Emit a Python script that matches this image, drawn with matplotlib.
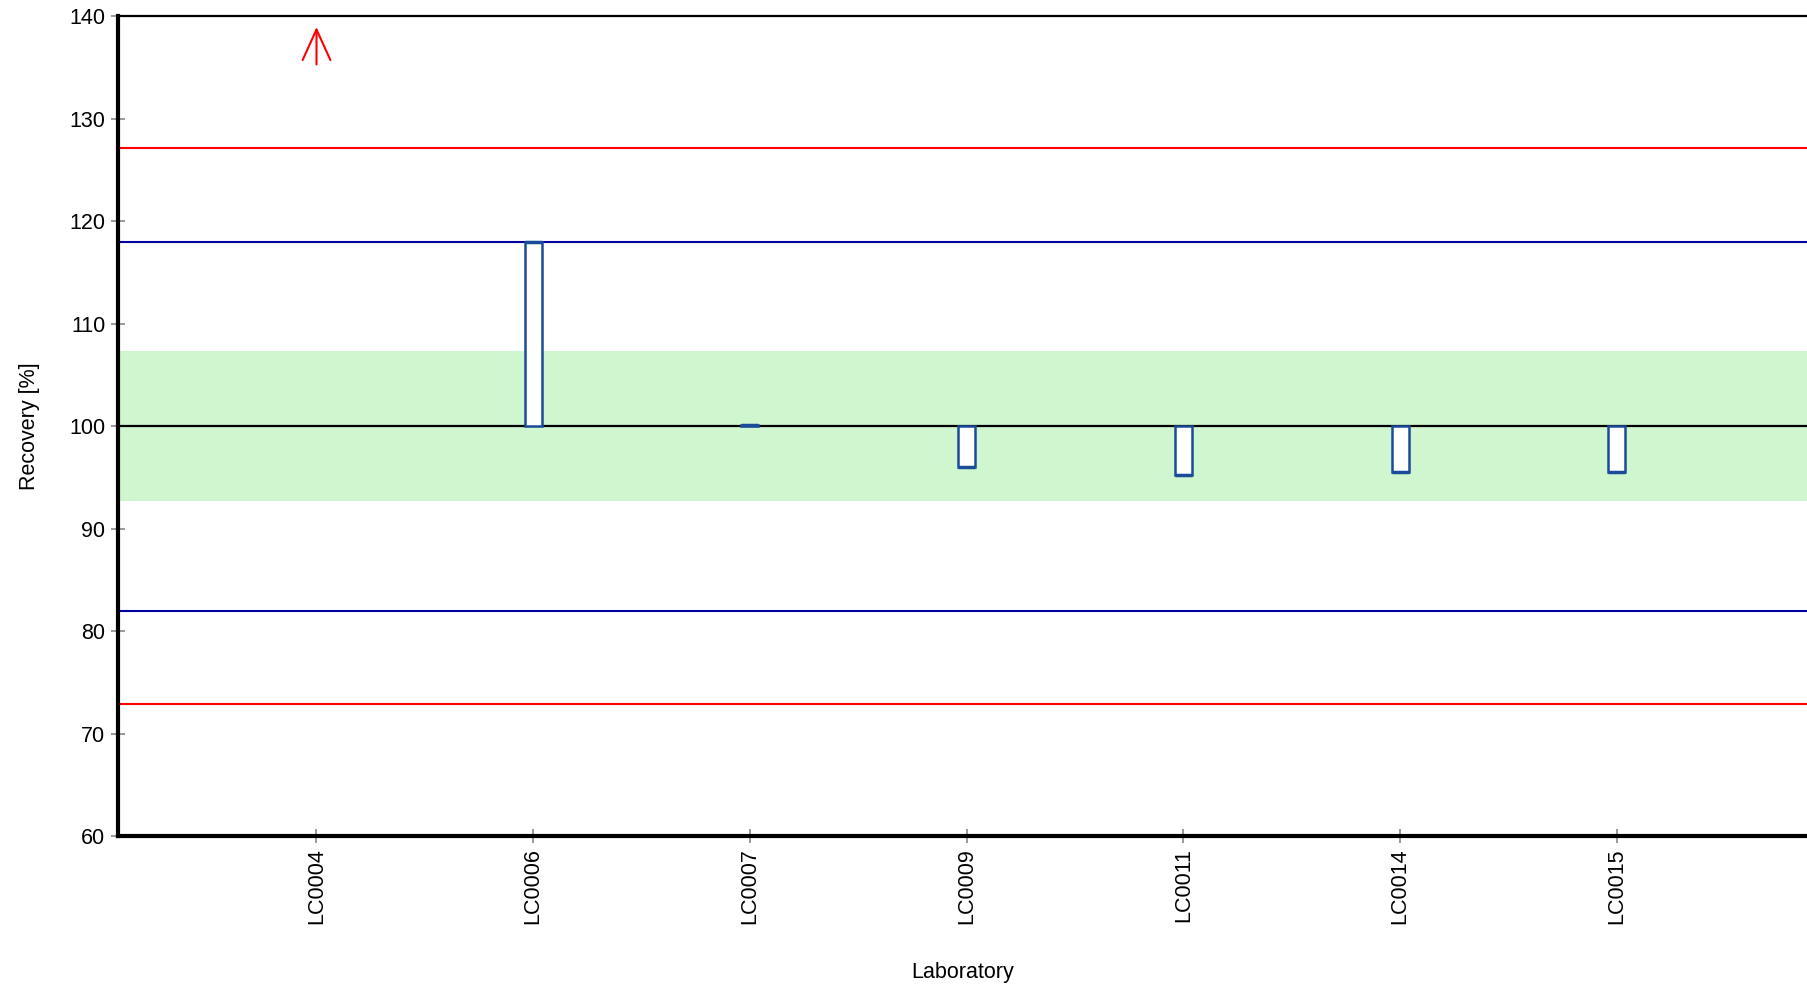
import matplotlib
matplotlib.use("Agg")
import matplotlib.pyplot as plt

plt.rcParams['font.family'] = ['Liberation Sans', 'DejaVu Sans']

# data
labs = ['LC0004', 'LC0006', 'LC0007', 'LC0009', 'LC0011', 'LC0014', 'LC0015']
recovery = [150.0, 118.0, 100.1, 96.0, 95.2, 95.5, 95.5]   # LC0004 off scale (above 140)
target = 100.0
band_lo, band_hi = 92.7, 107.3
warn_lo, warn_hi = 82.0, 118.0
act_lo, act_hi = 72.9, 127.1
yticks = [60, 70, 80, 90, 100, 110, 120, 130, 140]

ymin, ymax = 60, 140
bar_color = '#1a4b9b'
fs = 15.5

fig = plt.figure(figsize=(18.07, 9.88), dpi=100)
ax = fig.add_axes([0.0653, 0.1538, 0.9347, 0.83])

ax.set_xlim(-0.916, 6.878)
ax.set_ylim(ymin, ymax)

ax.axhspan(band_lo, band_hi, color='#cff6cf', zorder=0, lw=0)
for y in (act_lo, act_hi):
    ax.axhline(y, color='#ff0000', lw=1.5, zorder=1)
for y in (warn_lo, warn_hi):
    ax.axhline(y, color='#00009c', lw=1.5, zorder=1)
ax.axhline(target, color='black', lw=1.6, zorder=2)

w = 0.0785
for i, v in enumerate(recovery):
    if v > ymax:
        # value off scale -> red arrow at top
        ax.annotate('', xy=(i, ymax - 0.8), xytext=(i, ymax - 5.0),
                    arrowprops=dict(arrowstyle='->,head_length=2.2,head_width=1.0',
                                    color='#ff0000', lw=1.5))
        continue
    lo, hi = min(v, target), max(v, target)
    ax.bar(i, hi - lo, bottom=lo, width=w, color='white', edgecolor=bar_color,
           linewidth=1.8, zorder=3)
    ax.plot([i - w / 2, i + w / 2], [v, v], color=bar_color, lw=2.5, zorder=4,
            solid_capstyle='butt')

ax.set_xticks(range(len(labs)))
ax.set_xticklabels(labs, rotation=90, fontsize=fs)
ax.set_yticks(yticks)
ax.set_yticklabels([str(t) for t in yticks], fontsize=fs)
ax.tick_params(axis='both', direction='inout', length=10, width=1.2, color='#888888')
ax.tick_params(axis='y', pad=4)
ax.tick_params(axis='x', pad=4)

ax.spines['right'].set_visible(False)
ax.spines['left'].set_linewidth(3)
ax.spines['bottom'].set_linewidth(3)
ax.spines['top'].set_linewidth(1.6)

ax.set_xlabel('Laboratory', fontsize=fs, labelpad=27)
ax.set_ylabel('Recovery [%]', fontsize=fs, labelpad=21)

fig.savefig('out.png', dpi=100)
